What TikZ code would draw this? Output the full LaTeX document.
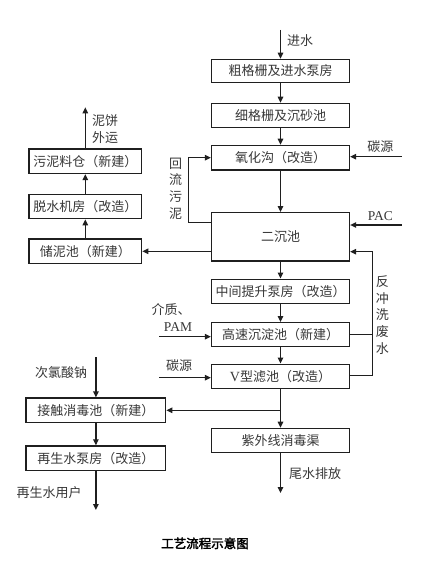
\documentclass[tikz,border=0pt]{standalone}
\usepackage{fontspec}
\setmainfont{Liberation Serif}
\newfontfamily\cjk{Noto Sans CJK SC}
\newfontfamily\cjkb[FakeBold=2.5]{Noto Sans CJK SC}
\usetikzlibrary{arrows.meta}
\colorlet{ink}{black!88}
\colorlet{txt}{black!78}
\tikzset{
  box/.style={draw=ink, line width=1.3pt, inner sep=0pt, text=txt,
    font=\cjk\fontsize{13}{14}\selectfont},
  rbox/.style={box, minimum width=138pt, minimum height=24pt},
  lbox/.style={box, minimum width=139.7pt, minimum height=24.5pt},
  sbox/.style={box, minimum width=112.7pt, minimum height=24.5pt},
  lbl/.style={text=txt, inner sep=0pt, font=\cjk\fontsize{13}{16.6}\selectfont, align=center},
  arr/.style={draw=ink, line width=1.2pt, -{Triangle[length=6pt,width=5.5pt]}},
  ln/.style={draw=ink, line width=1.2pt}
}
\begin{document}
\begin{tikzpicture}[x=1pt,y=-1pt]
\useasboundingbox (0,0) rectangle (432,569);
\fill[white] (0,0) rectangle (432,569);
% right column
\node[rbox, minimum height=23pt] (r1) at (280.5,70.8) {粗格栅及进水泵房};
\node[rbox] (r2) at (280.5,115.3) {细格栅及沉砂池};
\node[rbox, minimum height=24.7pt] (r3) at (280.5,157.7) {氧化沟（改造）};
\node[rbox, minimum height=48.3pt] (r4) at (280.5,236.8) {二沉池};
\node[rbox] (r5) at (280.5,291.2) {中间提升泵房（改造）};
\node[rbox] (r6) at (280.5,334.7) {高速沉淀池（新建）};
\node[rbox] (r7) at (280.5,376.2) {{\rmfamily\fontsize{14}{14}\selectfont V}型滤池（改造）};
\node[rbox, minimum height=24.4pt] (r8) at (280.5,440.5) {紫外线消毒渠};
% left column
\node[lbox] (l1) at (95.9,410.3) {接触消毒池（新建）};
\node[lbox] (l2) at (95.9,458.2) {再生水泵房（改造）};
\node[sbox] (s1) at (85.3,251.3) {储泥池（新建）};
\node[sbox] (s2) at (85.3,206.5) {脱水机房（改造）};
\node[sbox] (s3) at (85.3,161.3) {污泥料仓（新建）};
% free ends
\coordinate (in) at (280.5,30);
\coordinate (br) at (280.5,410.3);
\coordinate (out) at (280.5,493);
\coordinate (user) at (95.9,510);
\coordinate (naclo) at (95.9,357);
\coordinate (c1) at (401.7,156.7);
\coordinate (pac) at (401.7,225);
\coordinate (bw) at (372.3,251.7);
\coordinate (bw2) at (372.3,375.7);
\coordinate (rs) at (188.3,222.7);
\coordinate (cake) at (85.3,107.3);
\coordinate (pam) at (159.3,336.7);
\coordinate (c2) at (159.3,377.7);
% main flow
\draw[arr] (in) -- (r1);
\draw[arr] (r1) -- (r2);
\draw[arr] (r2) -- (r3);
\draw[arr] (r3) -- (r4);
\draw[arr] (r4) -- (r5);
\draw[arr] (r5) -- (r6);
\draw[arr] (r6) -- (r7);
\draw[arr] (r7) -- (r8);
\draw[arr] (br) -- (l1.east);
\draw[arr] (r8) -- (out);
\draw[arr] (l1) -- (l2);
\draw[arr] (l2) -- (user);
\draw[arr] (naclo) -- (l1);
% dosing
\draw[arr] (c1) -- (r3.east |- c1);
\draw[arr] (pac) -- (r4.east |- pac);
\draw[arr] (pam) -- (r6.west |- pam);
\draw[arr] (c2) -- (r7.west |- c2);
% backwash
\draw[arr] (r7.east |- bw2) -- (bw2) -- (bw) -- (r4.east |- bw);
\draw[ln] (r6.east) -- (r6.east -| bw);
% return sludge
\draw[arr] (r4.west |- rs) -- (rs) |- (r3.west);
% sludge line
\draw[arr] (r4.west |- s1.east) -- (s1.east);
\draw[arr] (s1) -- (s2);
\draw[arr] (s2) -- (s3);
\draw[arr] (s3) -- (cake);
% labels
\node[lbl] (t1) at (300,40.7) {进水};
\node[lbl] (t2) at (380.3,146.7) {碳源};
\node[lbl, font=\rmfamily\fontsize{13.5}{16}\selectfont] (t3) at (380.3,216) {PAC};
\node[lbl] (t4) at (175.7,188.5) {回\\流\\污\\泥};
\node[lbl] (t5) at (382.3,315) {反\\冲\\洗\\废\\水};
\node[lbl] (t6) at (105,129) {泥饼\\外运};
\node[lbl] (t7) at (171,310) {介质、};
\node[lbl, font=\rmfamily\fontsize{13.5}{16}\selectfont] (t8) at (178,326.7) {PAM};
\node[lbl] (t9) at (179,366) {碳源};
\node[lbl] (t10) at (61,373) {次氯酸钠};
\node[lbl] (t11) at (315,474) {尾水排放};
\node[lbl] (t12) at (49,492.7) {再生水用户};
\node[lbl, text=black, font=\cjkb\fontsize{12.5}{14}\selectfont] (t13) at (205,543.3) {工艺流程示意图};
\end{tikzpicture}
\end{document}
